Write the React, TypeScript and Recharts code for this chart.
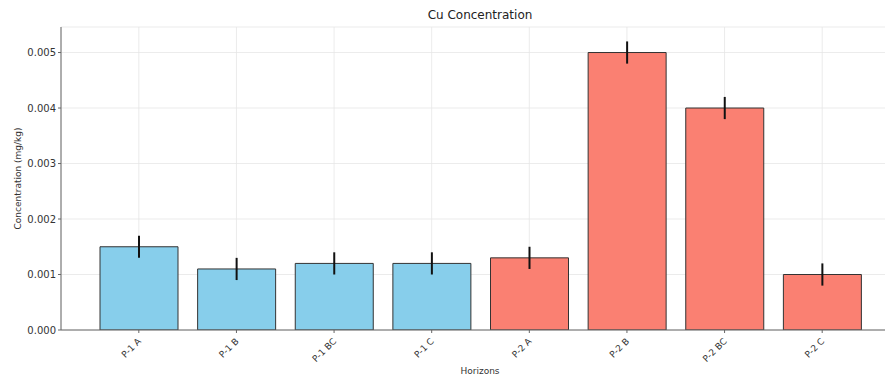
import { BarChart, Bar, XAxis, YAxis, CartesianGrid, ErrorBar, Cell, Label } from 'recharts'

const horizons = ['P-1 A', 'P-1 B', 'P-1 BC', 'P-1 C', 'P-2 A', 'P-2 B', 'P-2 BC', 'P-2 C']
const profiles = ['P-1', 'P-1', 'P-1', 'P-1', 'P-2', 'P-2', 'P-2', 'P-2']
const cuValues = [0.0015, 0.0011, 0.0012, 0.0012, 0.0013, 0.005, 0.004, 0.001]
const cuErrors = [0.0002, 0.0002, 0.0002, 0.0002, 0.0002, 0.0002, 0.0002, 0.0002]
const yTicks = [0, 0.001, 0.002, 0.003, 0.004, 0.005]

const COLORS: Record<string, string> = {
  'P-1': '#87CEEB',
  'P-2': '#FA8072',
}

const FONT = '"DejaVu Sans", sans-serif'

const chartData = horizons.map((h, i) => ({
  horizon: h,
  value: cuValues[i],
  err: cuErrors[i],
  profile: profiles[i],
}))

const RotatedTick = (props: any) => {
  const { x, y, payload } = props
  return (
    <g transform={`translate(${x},${y + 4})`}>
      <text
        textAnchor="end"
        transform="rotate(-45)"
        fontSize={9}
        fontFamily={FONT}
        fill="#333"
        dy={4}
      >
        {payload.value}
      </text>
    </g>
  )
}

const YTitle = (props: any) => {
  const { viewBox } = props
  const cy = viewBox.y + viewBox.height / 2
  return (
    <text
      x={18}
      y={cy}
      transform={`rotate(-90, 18, ${cy})`}
      textAnchor="middle"
      dominantBaseline="central"
      fontSize={9}
      fontFamily={FONT}
      fill="#333"
    >
      Concentration (mg/kg)
    </text>
  )
}

export default function App() {
  return (
    <div style={{ margin: -8, width: 893, height: 382, overflow: 'hidden', background: '#fff', position: 'relative' }}>
      <div
        style={{
          position: 'absolute', top: 8, left: 0, width: 960, textAlign: 'center',
          fontFamily: FONT, fontSize: 12, color: '#222',
        }}
      >
        Cu Concentration
      </div>
      <BarChart
        width={900}
        height={382}
        data={chartData}
        margin={{ top: 27, right: 1, left: 0, bottom: 0 }}
        barSize={78}
      >
        <CartesianGrid stroke="#e6e6e6" strokeWidth={0.8} />
        <XAxis
          dataKey="horizon"
          height={52}
          padding={{ left: 29, right: 28 }}
          tick={<RotatedTick />}
          tickLine={{ stroke: '#666' }}
          tickSize={3}
          axisLine={{ stroke: '#666' }}
          interval={0}
        >
          <Label value="Horizons" position="insideBottom" offset={8} style={{ fontFamily: FONT, fontSize: 9, fill: '#333' }} />
        </XAxis>
        <YAxis
          width={61}
          domain={[0, 0.00546]}
          ticks={yTicks}
          tickFormatter={(v: number) => v.toFixed(3)}
          tick={{ fontSize: 10, fill: '#333', fontFamily: FONT }}
          tickLine={{ stroke: '#666' }}
          tickSize={3}
          axisLine={{ stroke: '#666' }}
          allowDataOverflow
        >
          <Label content={<YTitle />} />
        </YAxis>
        <Bar dataKey="value" stroke="#333" strokeWidth={1} isAnimationActive={false}>
          {chartData.map((d, i) => (
            <Cell key={i} fill={COLORS[d.profile]} />
          ))}
          <ErrorBar dataKey="err" width={0} stroke="#111" strokeWidth={2} direction="y" />
        </Bar>
      </BarChart>
    </div>
  )
}
